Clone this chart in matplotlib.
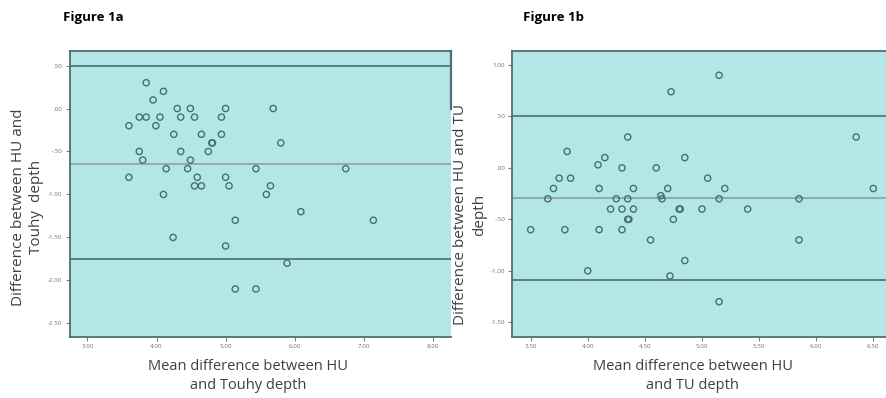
import matplotlib.pyplot as plt

plt.rcParams['font.family'] = ['Open Sans', 'DejaVu Sans']

# Figure 1a - HU vs Touhy
mean_a = [3.85, 4.10, 3.95,
          4.30, 4.49, 5.00, 5.69,
          3.75, 3.85, 4.05, 4.35, 4.55, 4.94,
          3.60, 3.99,
          4.25, 4.65, 4.94,
          4.80, 4.81, 5.80,
          3.75, 4.35, 4.75,
          3.80, 4.49,
          4.14, 4.45, 5.44, 6.74,
          3.60, 4.59, 5.00,
          4.55, 4.65, 5.05, 5.65,
          4.10, 5.59,
          6.09, 5.14, 7.14, 4.24, 5.00, 5.89, 5.14, 5.44]
diff_a = [0.30, 0.20, 0.10,
          0.00, 0.00, 0.00, 0.00,
          -0.10, -0.10, -0.10, -0.10, -0.10, -0.10,
          -0.20, -0.20,
          -0.30, -0.30, -0.30,
          -0.40, -0.40, -0.40,
          -0.50, -0.50, -0.50,
          -0.60, -0.60,
          -0.70, -0.70, -0.70, -0.70,
          -0.80, -0.80, -0.80,
          -0.90, -0.90, -0.90, -0.90,
          -1.00, -1.00,
          -1.20, -1.30, -1.30, -1.50, -1.60, -1.80, -2.10, -2.10]
lines_a = [0.50, -0.64, -1.75]
xticks_a = [3, 4, 5, 6, 7, 8]
xlabels_a = ['3.00', '4.00', '5.00', '6.00', '7.00', '8.00']
yticks_a = [0.5, 0, -0.5, -1.0, -1.5, -2.0, -2.5]
ylabels_a = ['.50', '.00', '-.50', '-1.00', '-1.50', '-2.00', '-2.50']

# Figure 1b - HU vs TU
mean_b = [5.15, 4.73, 4.35, 6.35, 3.82, 4.15, 4.85, 4.09, 4.30, 4.60,
          3.75, 3.85, 5.05,
          3.70, 4.10, 4.40, 4.70, 5.20, 6.50,
          3.65, 4.25, 4.35, 4.64, 4.65, 5.15, 5.85,
          4.20, 4.30, 4.40, 4.80, 4.81, 5.00, 5.40,
          4.35, 4.36, 4.75,
          3.50, 3.80, 4.10, 4.30,
          4.55, 5.85, 4.85, 4.00, 4.72, 5.15]
diff_b = [0.90, 0.74, 0.30, 0.30, 0.16, 0.10, 0.10, 0.03, 0.00, 0.00,
          -0.10, -0.10, -0.10,
          -0.20, -0.20, -0.20, -0.20, -0.20, -0.20,
          -0.30, -0.30, -0.30, -0.27, -0.30, -0.30, -0.30,
          -0.40, -0.40, -0.40, -0.40, -0.40, -0.40, -0.40,
          -0.50, -0.50, -0.50,
          -0.60, -0.60, -0.60, -0.60,
          -0.70, -0.70, -0.90, -1.00, -1.05, -1.30]
lines_b = [0.50, -0.29, -1.09]
xticks_b = [3.5, 4.0, 4.5, 5.0, 5.5, 6.0, 6.5]
xlabels_b = ['3.50', '4.00', '4.50', '5.00', '5.50', '6.00', '6.50']
yticks_b = [1.0, 0.5, 0, -0.5, -1.0, -1.5]
ylabels_b = ['1.00', '.50', '.00', '-.50', '-1.00', '-1.50']

bg = '#b3e6e6'
dark = '#4d6f70'
edge = '#467070'

fig = plt.figure(figsize=(8.87, 3.98), dpi=100)
ax1 = fig.add_axes([0.0784, 0.153, 0.4297, 0.719])
ax2 = fig.add_axes([0.5776, 0.154, 0.4224, 0.719])


def style(ax, xt, xl, yt, yl, lines):
    ax.set_facecolor(bg)
    ax.set_xticks(xt)
    ax.set_xticklabels(xl)
    ax.set_yticks(yt)
    ax.set_yticklabels(yl)
    ax.tick_params(labelsize=4.5, labelcolor='#707070', color='#808080', length=3, width=0.8, pad=2)
    for s in ax.spines.values():
        s.set_color(dark)
        s.set_linewidth(1.3)
    ax.axhline(lines[0], color=dark, lw=1.2, zorder=1)
    ax.axhline(lines[1], color='#8f9e9e', lw=1.2, zorder=1)
    ax.axhline(lines[2], color=dark, lw=1.2, zorder=1)


ax1.scatter(mean_a, diff_a, s=20, facecolors='none', edgecolors=edge, linewidths=1.0, zorder=3)
style(ax1, xticks_a, xlabels_a, yticks_a, ylabels_a, lines_a)
ax1.set_xlim(2.74, 8.26)
ax1.set_ylim(-2.66, 0.67)
ax1.spines['right'].set_visible(False)
ax1.axvline(8.26, ymin=(0 + 2.66) / 3.33, ymax=1, color=dark, lw=1.6, clip_on=False)

ax2.scatter(mean_b, diff_b, s=20, facecolors='none', edgecolors=edge, linewidths=1.0, zorder=3)
style(ax2, xticks_b, xlabels_b, yticks_b, ylabels_b, lines_b)
ax2.set_xlim(3.34, 6.62)
ax2.set_ylim(-1.64, 1.14)

fig.text(0.071, 0.955, 'Figure 1a', fontsize=9.5, fontweight='bold', va='center')
fig.text(0.590, 0.955, 'Figure 1b', fontsize=9.5, fontweight='bold', va='center')

fig.text(0.031, 0.48, 'Difference between HU and\nTouhy  depth', rotation=90, fontsize=11,
         color='#404040', ha='center', va='center', multialignment='center', linespacing=1.3)
fig.text(0.530, 0.46, 'Difference between HU and TU\ndepth', rotation=90, fontsize=11,
         color='#404040', ha='center', va='center', multialignment='center', linespacing=1.3)

fig.text(0.280, 0.055, 'Mean difference between HU\nand Touhy depth', fontsize=10.5, color='#404040',
         ha='center', va='center', multialignment='center', linespacing=1.3)
fig.text(0.781, 0.055, 'Mean difference between HU\nand TU depth', fontsize=10.5, color='#404040',
         ha='center', va='center', multialignment='center', linespacing=1.3)

fig.savefig('out.png', dpi=100, facecolor='white')
